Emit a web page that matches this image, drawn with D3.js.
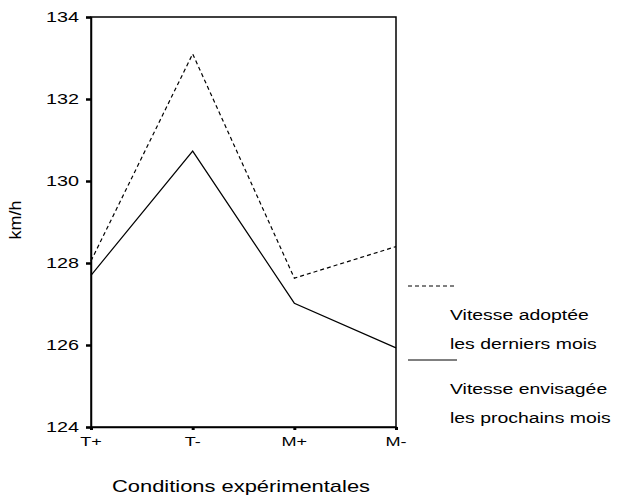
<!DOCTYPE html>
<html>
<head>
<meta charset="utf-8">
<script src="https://cdn.jsdelivr.net/npm/d3@7"></script>
<style>
  body { margin: 0; background: #fff; }
  text { font-family: "Liberation Sans", Arial, sans-serif; fill: #000; }
</style>
</head>
<body>
<svg id="drawing_region"></svg>
<script>
// data
const categories = ['T+', 'T-', 'M+', 'M-'];
const adoptee = [128.05, 133.1, 127.63, 128.4];     // dashed
const envisagee = [127.7, 130.73, 127.02, 125.93];  // solid
const yTicks = [124, 126, 128, 130, 132, 134];
const seriesNames = [['Vitesse adoptée', 'les derniers mois'], ['Vitesse envisagée', 'les prochains mois']];
const xTitle = 'Conditions expérimentales';
const yTitle = 'km/h';

const width = 619, height = 497;
const SX = 1.34; // the original type is stretched sideways

const svg = d3.select('#drawing_region')
    .attr('width', width)
    .attr('height', height);

const xscale = d3.scalePoint()
    .domain(categories)
    .range([91, 396]);

const yscale = d3.scaleLinear()
    .domain([124, 134])
    .range([427, 17]);

// text placed at (x,y) and stretched sideways around that point
function label(parent, x, y, str, size, anchor, sx) {
    return parent.append('text')
        .attr('transform', `translate(${x},${y}) scale(${sx || SX},1)`)
        .attr('text-anchor', anchor || 'start')
        .attr('font-size', size)
        .text(str);
}

// frame
svg.append('rect')
    .attr('x', 91).attr('y', 17)
    .attr('width', 305).attr('height', 410)
    .attr('fill', 'none')
    .attr('stroke', '#000')
    .attr('stroke-width', 1.5);

// y axis
const yaxis = svg.append('g')
    .attr('transform', 'translate(91,0)')
    .call(d3.axisLeft(yscale).tickValues(yTicks).tickSize(5).tickFormat(''));
yaxis.select('.domain').attr('stroke-width', 1.5);
yaxis.selectAll('.tick line').attr('stroke-width', 2.5);
yTicks.forEach(v => {
    label(svg, 79, yscale(v) + 5.3, v, 15, 'end', 1.32);
});

// x axis
const xaxis = svg.append('g')
    .attr('transform', 'translate(0,427)')
    .call(d3.axisBottom(xscale).tickSize(3).tickFormat(''));
xaxis.select('.domain').attr('stroke-width', 1.5);
xaxis.selectAll('.tick line').attr('stroke-width', 3);
categories.forEach(c => {
    label(svg, xscale(c), 446, c, 13.5, 'middle');
});

// lines
const line = d3.line()
    .x((d, i) => xscale(categories[i]))
    .y(d => yscale(d));

svg.append('path')
    .datum(adoptee)
    .attr('d', line)
    .attr('fill', 'none')
    .attr('stroke', '#000')
    .attr('stroke-width', 1.2)
    .attr('stroke-dasharray', '4,3');

svg.append('path')
    .datum(envisagee)
    .attr('d', line)
    .attr('fill', 'none')
    .attr('stroke', '#000')
    .attr('stroke-width', 1.2);

// axis titles
label(svg, 241, 492, xTitle, 16, 'middle', 1.37);

svg.append('text')
    .attr('transform', 'translate(21,220) rotate(-90) scale(1.2,1.05)')
    .attr('text-anchor', 'middle')
    .attr('font-size', 15)
    .text(yTitle);

// legend
const legend = svg.append('g');
const legendY = [286, 360];
const dashes = ['4,3', null];
seriesNames.forEach((lines, i) => {
    legend.append('line')
        .attr('x1', 408).attr('x2', 457)
        .attr('y1', legendY[i]).attr('y2', legendY[i])
        .attr('stroke', '#000')
        .attr('stroke-width', 1)
        .attr('stroke-dasharray', dashes[i]);
    lines.forEach((t, j) => {
        label(legend, 450, legendY[i] + 34 + j * 29, t, 14.5, 'start', 1.34);
    });
});
</script>
</body>
</html>
